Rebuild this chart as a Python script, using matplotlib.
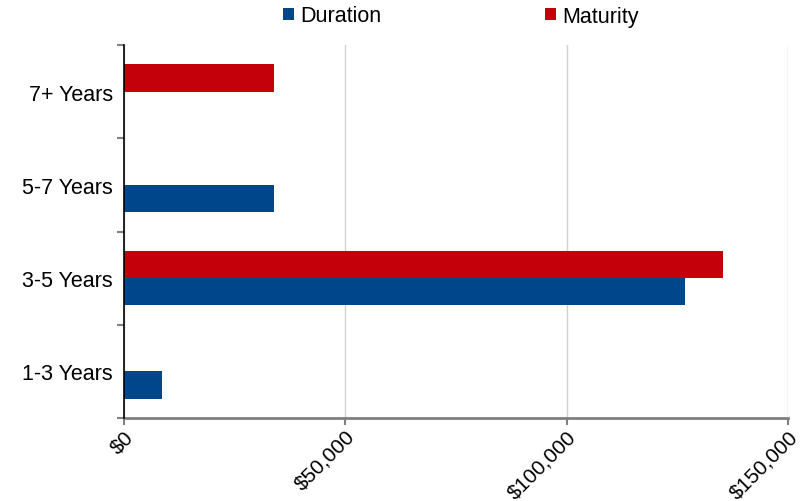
import numpy as np
import matplotlib.pyplot as plt
from matplotlib.ticker import FuncFormatter

plt.rcParams['font.family'] = ['Liberation Sans', 'DejaVu Sans']

# Data (bottom to top)
categories = ['1-3 Years', '3-5 Years', '5-7 Years', '7+ Years']
duration = [8500, 126700, 33900, 0]
maturity = [0, 135300, 0, 33900]

blue = '#00468A'
red = '#C4000B'

fig = plt.figure(figsize=(8.1, 5.02), dpi=100)
ax = fig.add_axes([124/810, 1 - 419/502, 664/810, 373/502])

y = np.arange(len(categories))
h = 0.293
ax.barh(y - h/2, duration, height=h, color=blue, label='Duration', zorder=3)
ax.barh(y + h/2, maturity, height=h, color=red, label='Maturity', zorder=3)

ax.set_xlim(0, 150000)
ax.set_ylim(-0.5, len(categories) - 0.5)
ax.set_xticks([0, 50000, 100000, 150000])
ax.xaxis.set_major_formatter(FuncFormatter(lambda v, p: '${:,.0f}'.format(v)))
ax.set_yticks(y)
ax.set_yticklabels(categories)
ax.set_yticks(np.arange(-0.5, len(categories)), minor=True)

ax.grid(axis='x', color='#d0d0d0', linewidth=1, zorder=0)
ax.tick_params(axis='y', which='major', length=0, labelsize=15.5, pad=8)
ax.tick_params(axis='y', which='minor', length=5, color='#808080', width=1.5)
ax.tick_params(axis='x', length=5, color='#808080', width=1.5, labelsize=15, pad=1)
for lab in ax.get_xticklabels():
    lab.set_rotation(45)
    lab.set_ha('right')
    lab.set_va('top')
    lab.set_rotation_mode('anchor')

for s in ['top', 'right']:
    ax.spines[s].set_visible(False)
ax.spines['left'].set_color('black')
ax.spines['left'].set_linewidth(1.2)
ax.spines['bottom'].set_color('#808080')
ax.spines['bottom'].set_linewidth(2)
ax.spines['left'].set_zorder(4)

fig.legend(loc='center', bbox_to_anchor=(461/810, 1 - 17/502), ncol=2, frameon=False,
           fontsize=15.5, handlelength=0.5, handleheight=0.5, handletextpad=0.3,
           columnspacing=7.6)

fig.savefig('out.png', dpi=100)
